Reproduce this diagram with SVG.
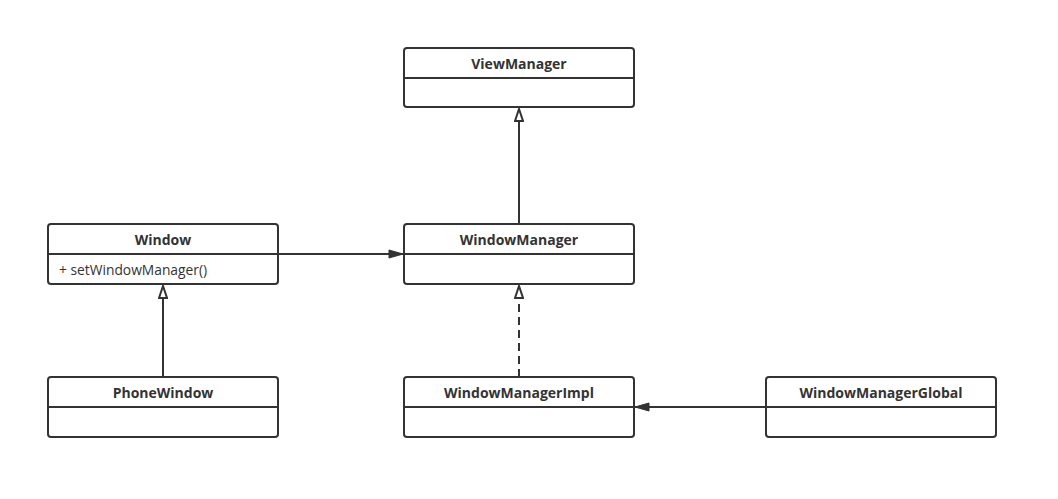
<svg xmlns="http://www.w3.org/2000/svg" width="1058" height="499" viewBox="0 0 1058 499">
<style>
.box{fill:#fff;stroke:#333;stroke-width:2}
.div{stroke:#333;stroke-width:2}
.t{font-family:"Open Sans","Noto Sans",sans-serif;font-size:14px;font-weight:bold;fill:#333;text-anchor:middle;dominant-baseline:central}
.m{font-family:"Open Sans","Noto Sans",sans-serif;font-size:13.8px;fill:#333;dominant-baseline:central}
.e{fill:none;stroke:#333;stroke-width:2}
</style>
<defs>
<marker id="hollow" markerUnits="userSpaceOnUse" viewBox="0 0 14 10" refX="13" refY="5" markerWidth="14" markerHeight="10" orient="auto">
<path d="M1,1 L13,5 L1,9 Z" fill="#fff" stroke="#333" stroke-width="2"/>
</marker>
<marker id="filled" markerUnits="userSpaceOnUse" viewBox="0 0 16 10" refX="15" refY="5" markerWidth="16" markerHeight="10" orient="auto">
<path d="M1,1 L15,5 L1,9 Z" fill="#333" stroke="#333" stroke-width="1"/>
</marker>
</defs>
<rect width="1058" height="499" fill="#fff"/>
<g id="connectors">
<path class="e" d="M519,224 L519,109" marker-end="url(#hollow)"/>
<path class="e" d="M278,254 L403,254" marker-end="url(#filled)"/>
<path class="e" d="M519,377 L519,286" stroke-dasharray="8,5" marker-end="url(#hollow)"/>
<path class="e" d="M163,377 L163,286" marker-end="url(#hollow)"/>
<path class="e" d="M766,407 L635,407" marker-end="url(#filled)"/>
</g>
<g id="ViewManager">
<rect class="box" x="404" y="48" width="230" height="59" rx="3"/>
<line class="div" x1="404" y1="78" x2="634" y2="78"/>
<text class="t" x="519" y="63">ViewManager</text>
</g>
<g id="Window">
<rect class="box" x="48" y="224" width="230" height="60" rx="3"/>
<line class="div" x1="48" y1="254" x2="278" y2="254"/>
<text class="t" x="163" y="239">Window</text>
<text class="m" x="59" y="269">+ setWindowManager()</text>
</g>
<g id="WindowManager">
<rect class="box" x="404" y="224" width="230" height="60" rx="3"/>
<line class="div" x1="404" y1="254" x2="634" y2="254"/>
<text class="t" x="519" y="239">WindowManager</text>
</g>
<g id="PhoneWindow">
<rect class="box" x="48" y="377" width="230" height="60" rx="3"/>
<line class="div" x1="48" y1="407" x2="278" y2="407"/>
<text class="t" x="163" y="392">PhoneWindow</text>
</g>
<g id="WindowManagerImpl">
<rect class="box" x="404" y="377" width="230" height="60" rx="3"/>
<line class="div" x1="404" y1="407" x2="634" y2="407"/>
<text class="t" x="519" y="392">WindowManagerImpl</text>
</g>
<g id="WindowManagerGlobal">
<rect class="box" x="766" y="377" width="230" height="60" rx="3"/>
<line class="div" x1="766" y1="407" x2="996" y2="407"/>
<text class="t" x="881" y="392">WindowManagerGlobal</text>
</g>
</svg>
